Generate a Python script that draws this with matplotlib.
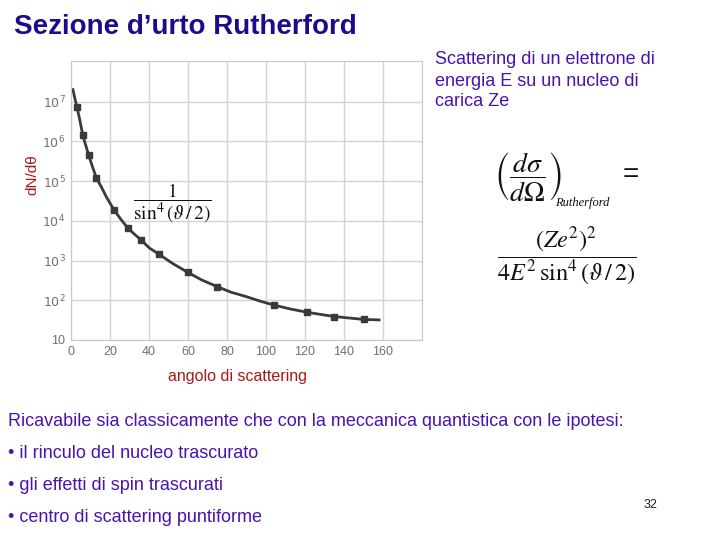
import matplotlib
matplotlib.use('Agg')
import matplotlib.pyplot as plt
import numpy as np

plt.rcParams['font.family'] = ['Liberation Sans', 'DejaVu Sans']

# data
angle_pts = [3, 6, 9, 13, 22, 29, 36, 45, 60, 75, 104, 121, 135, 150]
counts_pts = [7.4e6, 1.45e6, 4.6e5, 1.2e5, 1.9e4, 6.7e3, 3.3e3, 1.45e3,
              500, 220, 76, 50, 39, 33]
angle_curve = [1.0, 2.0, 3.0, 4.5, 6.0, 7.5, 9.0, 11.0, 13.0, 15.5, 18.5,
               22.0, 25.5, 29.0, 32.5, 36.0, 40.0, 45.0, 52.0, 60.0, 67.0,
               75.0, 82.0, 90.0, 97.0, 104.0, 112.0, 121.0, 128.0, 135.0,
               142.0, 150.0, 158.0]
counts_curve = [2.0e7, 1.2e7, 7.4e6, 3.5e6, 1.45e6, 8.1e5, 4.6e5, 2.3e5,
                1.2e5, 7.2e4, 3.7e4, 1.9e4, 1.1e4, 6.7e3, 4.6e3, 3.3e3,
                2.1e3, 1.45e3, 850, 500, 325, 220, 160, 123, 95, 76, 61,
                50, 44, 39, 36, 33, 32]
xtick_vals = [0, 20, 40, 60, 80, 100, 120, 140, 160]
ytick_vals = [10, 1e2, 1e3, 1e4, 1e5, 1e6, 1e7]
ytick_labels = ['10', '$10^2$', '$10^3$', '$10^4$', '$10^5$', '$10^6$', '$10^7$']

title_col = '#1e0a8c'
text_col = '#4a12b0'
red = '#a81818'

W, H = 720, 540
fig = plt.figure(figsize=(7.2, 5.4), dpi=100)

def fx(px):
    return px / W

def fy(py):
    return 1 - py / H

ax = fig.add_axes([fx(71), fy(340), fx(422) - fx(71), fy(61) - fy(340)])
ax.set_yscale('log')
ax.set_xlim(0, 180)
ax.set_ylim(10, 1.05e8)
ax.plot(angle_curve, counts_curve, color='#3a3a3a', lw=2)
ax.plot(angle_pts, counts_pts, 's', color='#3a3a3a', ms=5)
ax.set_xticks(xtick_vals)
ax.set_xticklabels([str(v) for v in xtick_vals], color='#707070', fontsize=9)
ax.set_yticks(ytick_vals)
ax.set_yticklabels(ytick_labels, color='#707070', fontsize=9)
ax.yaxis.set_minor_locator(matplotlib.ticker.NullLocator())
ax.tick_params(length=0, pad=4)
ax.grid(True, color='#d4d4d4', lw=1)
ax.set_axisbelow(True)
for s in ax.spines.values():
    s.set_color('#c8c8c8')

ax.text(52, 10**4.45, r'$\dfrac{1}{\sin^4(\vartheta\,/\,2)}$', fontsize=14,
        math_fontfamily='stix', ha='center', va='center', color='#111111')

fig.text(fx(32), fy(175), 'dN/dθ', rotation=90, color=red, fontsize=11,
         ha='center', va='center')
fig.text(fx(238), fy(377), 'angolo di scattering', color=red, fontsize=11.5,
         ha='center', va='center')

fig.text(fx(14), fy(27), 'Sezione d\u2019urto Rutherford', fontsize=20,
         fontweight='bold', color=title_col, va='center', ha='left')

right_lines = ['Scattering di un elettrone di', 'energia E su un nucleo di',
               'carica Ze']
for i, line in enumerate(right_lines):
    fig.text(fx(435), fy(60 + 21 * i), line, fontsize=13, color=text_col,
             va='center', ha='left')

fig.text(fx(494), fy(177), r'$\left(\dfrac{d\sigma}{d\Omega}\right)$',
         fontsize=20, math_fontfamily='stix', va='center', ha='left', color='#111111')
fig.text(fx(555), fy(203), 'Rutherford', fontsize=9, family='Liberation Serif',
         style='italic', va='center', ha='left', color='#111111')
fig.text(fx(631), fy(175), '=', fontsize=20, math_fontfamily='stix',
         va='center', ha='center', color='#111111')
fig.text(fx(567), fy(256), r'$\dfrac{\left(Ze^2\right)^2}{4E^2\,\sin^4(\vartheta\,/\,2)}$',
         fontsize=17.5, math_fontfamily='stix', va='center', ha='center', color='#111111')

fig.text(fx(8), fy(421), 'Ricavabile sia classicamente che con la meccanica quantistica con le ipotesi:',
         fontsize=13, color=text_col, va='center', ha='left')
bullets = ['il rinculo del nucleo trascurato', 'gli effetti di spin trascurati',
           'centro di scattering puntiforme']
for i, b in enumerate(bullets):
    fig.text(fx(8), fy(454 + 32 * i), '\u2022 ' + b, fontsize=13,
             color=text_col, va='center', ha='left')

fig.text(fx(651), fy(505), '32', fontsize=9, color='#222222', va='center', ha='center')

fig.savefig('out.png', dpi=100)
